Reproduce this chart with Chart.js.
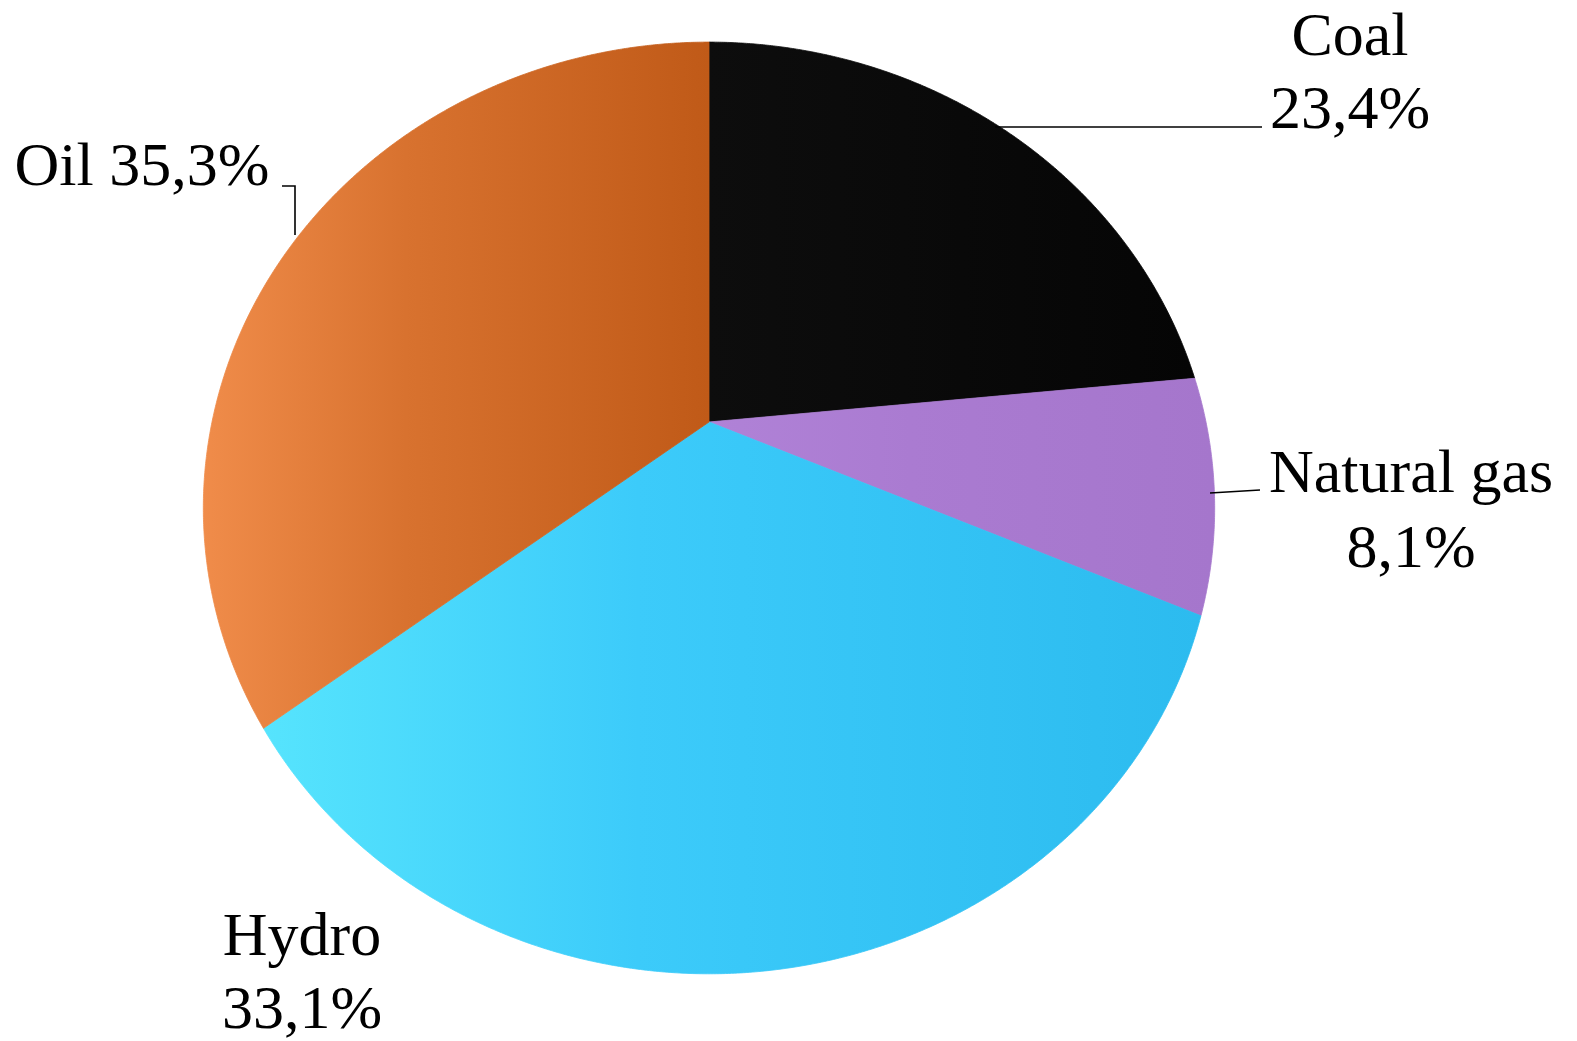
<!DOCTYPE html>
<html>
<head>
<meta charset="utf-8">
<script src="https://cdn.jsdelivr.net/npm/chart.js@4/dist/chart.umd.min.js"></script>
<style>
    html, body { margin: 0; padding: 0; background: #fff; }
    #wrap { width: 1577px; height: 1041px; }
</style>
</head>
<body>
<div id="wrap"><canvas id="pieChart" width="1577" height="1041"></canvas></div>
<script>
const sources = ['Coal', 'Natural gas', 'Hydro', 'Oil'];
const shares = [23.4, 8.1, 33.1, 35.3];
const colorsLight = ['#0d0d0d', '#b082d7', '#56e4fd', '#f08c4a'];
const colorsMid = ['#0a0a0a', '#aa7bd1', '#3ccbfa', '#d8722f'];
const colorsDark = ['#050505', '#a576cc', '#2cbbef', '#c05a18'];

// position des étiquettes (centre, lignes de base)
const labelPos = [
    { x: 1350, y: [55, 128], lines: 2 },
    { x: 1411, y: [492, 567], lines: 2 },
    { x: 302, y: [955, 1028], lines: 2 },
    { x: 142, y: [185], lines: 1 }
];
const leaders = [
    [[995, 127], [1262, 127]],
    [[1210, 493], [1260, 490]],
    null,
    [[282, 186], [295, 186], [295, 235]]
];

// camembert vu en perspective
const pie = { cx: 709, cy: 422, rx: 497, ry: 450, k: -0.1845 };

function project(a) {
    const u = Math.cos(a), v = Math.sin(a);
    const d = 1 + pie.k * v;
    return [pie.cx + pie.rx * u / d, pie.cy + pie.ry * v / d];
}

function fmt(v) {
    return v.toFixed(1).replace('.', ',') + '%';
}

const perspectivePie = {
    id: 'perspectivePie',
    beforeDatasetsDraw(chart) {
        const ctx = chart.ctx;
        const arcs = chart.getDatasetMeta(0).data;
        arcs.forEach((arc, i) => {
            const pts = [];
            const n = Math.max(8, Math.ceil((arc.endAngle - arc.startAngle) / 0.005));
            for (let s = 0; s <= n; s++) {
                pts.push(project(arc.startAngle + (arc.endAngle - arc.startAngle) * s / n));
            }
            let minX = pie.cx, maxX = pie.cx;
            pts.forEach(p => {
                minX = Math.min(minX, p[0]);
                maxX = Math.max(maxX, p[0]);
            });
            const grad = ctx.createLinearGradient(minX, 0, maxX, 0);
            grad.addColorStop(0, colorsLight[i]);
            grad.addColorStop(0.4, colorsMid[i]);
            grad.addColorStop(1, colorsDark[i]);
            ctx.save();
            ctx.beginPath();
            ctx.moveTo(pie.cx, pie.cy);
            pts.forEach(p => ctx.lineTo(p[0], p[1]));
            ctx.closePath();
            ctx.fillStyle = grad;
            ctx.fill();
            ctx.strokeStyle = grad;
            ctx.lineWidth = 0.8;
            ctx.stroke();
            ctx.restore();
        });
        return false;
    },
    afterDraw(chart) {
        const ctx = chart.ctx;
        ctx.save();
        ctx.strokeStyle = '#000';
        ctx.lineWidth = 1.6;
        leaders.forEach(l => {
            if (!l) return;
            ctx.beginPath();
            ctx.moveTo(l[0][0], l[0][1]);
            for (let j = 1; j < l.length; j++) ctx.lineTo(l[j][0], l[j][1]);
            ctx.stroke();
        });
        ctx.fillStyle = '#000';
        ctx.font = '62px "Liberation Serif", "Times New Roman", serif';
        ctx.textAlign = 'center';
        ctx.textBaseline = 'alphabetic';
        sources.forEach((name, i) => {
            const p = labelPos[i];
            if (p.lines === 2) {
                ctx.fillText(name, p.x, p.y[0]);
                ctx.fillText(fmt(shares[i]), p.x, p.y[1]);
            } else {
                ctx.fillText(name + ' ' + fmt(shares[i]), p.x, p.y[0]);
            }
        });
        ctx.restore();
    }
};

const ctx = document.getElementById('pieChart').getContext('2d');
const pieChart = new Chart(ctx, {
    type: 'pie',
    data: {
        labels: sources,
        datasets: [{
            data: shares,
            backgroundColor: colorsDark,
            borderWidth: 0
        }]
    },
    options: {
        responsive: false,
        animation: false,
        events: [],
        plugins: {
            legend: { display: false },
            tooltip: { enabled: false }
        }
    },
    plugins: [perspectivePie]
});
</script>
</body>
</html>
